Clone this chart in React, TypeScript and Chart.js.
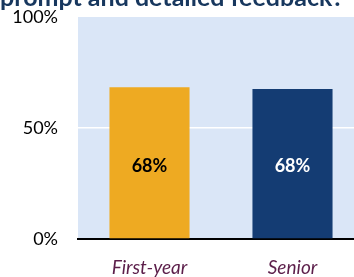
import React, { useEffect, useRef } from "react";
import { Chart, registerables } from "chart.js";

Chart.register(...registerables);

const categories = ["First-year", "Senior"];
const values = [68.4, 67.6];
const valueLabels = ["68%", "68%"];
const yTicks = [0, 50, 100];
const titleText = "prompt and detailed feedback?";

const barColors = ["#EEAA22", "#143C73"];
const labelColors = ["#000000", "#FFFFFF"];

const bgPlugin = {
  id: "bgPlugin",
  beforeDraw(chart: any) {
    const { ctx, chartArea } = chart;
    ctx.save();
    ctx.fillStyle = "#DAE6F7";
    ctx.fillRect(chartArea.left, chartArea.top, chartArea.right - chartArea.left, chartArea.bottom - chartArea.top);
    ctx.restore();
  },
  afterDraw(chart: any) {
    const { ctx } = chart;
    ctx.save();
    ctx.fillStyle = "#17375E";
    ctx.font = "bold 25px Lato";
    ctx.textBaseline = "alphabetic";
    ctx.textAlign = "left";
    ctx.fillText(titleText, 0, 6);
    const meta = chart.getDatasetMeta(0);
    ctx.font = "bold 18px Lato";
    ctx.textAlign = "center";
    ctx.textBaseline = "middle";
    meta.data.forEach((bar: any, i: number) => {
      ctx.fillStyle = labelColors[i];
      const yMid = (bar.y + bar.base) / 2 + 3;
      ctx.fillText(valueLabels[i], bar.x, yMid);
    });
    ctx.restore();
  },
};

export default function App() {
  const ref = useRef<HTMLCanvasElement>(null);
  useEffect(() => {
    if (!ref.current) return;
    const chart = new Chart(ref.current, {
      type: "bar",
      data: {
        labels: categories,
        datasets: [
          {
            data: values,
            backgroundColor: barColors,
            barPercentage: 0.56,
            categoryPercentage: 1,
          },
        ],
      },
      options: {
        responsive: false,
        animation: false,
        layout: { padding: { top: 17, right: 0, left: 0, bottom: 0 } },
        plugins: { legend: { display: false }, tooltip: { enabled: false } },
        scales: {
          x: {
            grid: { display: false, drawTicks: false },
            border: { display: true, color: "#000000", width: 2 },
            ticks: {
              color: "#5C1E4A",
              font: { family: "Lato", size: 19, style: "italic" },
              padding: 17,
            },
            afterFit(scale: any) {
              scale.height = 38;
              scale.paddingLeft = 0;
              scale.paddingRight = 0;
            },
          },
          y: {
            min: 0,
            max: 100,
            afterBuildTicks(scale: any) {
              scale.ticks = yTicks.map((v) => ({ value: v }));
            },
            grid: {
              color: (c: any) => (c.tick && c.tick.value === 50 ? "#FFFFFF" : "rgba(0,0,0,0)"),
              lineWidth: 1.5,
              drawTicks: false,
            },
            border: { display: false },
            ticks: {
              color: "#000000",
              font: { family: "Lato", size: 18 },
              padding: 20,
              callback: (v: any) => v + "%",
            },
            afterFit(scale: any) {
              scale.width = 78;
              scale.paddingTop = 0;
              scale.paddingBottom = 0;
            },
          },
        },
      },
      plugins: [bgPlugin],
    });
    return () => chart.destroy();
  }, []);
  return (
    <div style={{ position: "fixed", left: 0, top: 0, width: 354, height: 277, overflow: "hidden", background: "#fff" }}>
      <canvas ref={ref} width={364} height={277} style={{ display: "block" }} />
    </div>
  );
}
